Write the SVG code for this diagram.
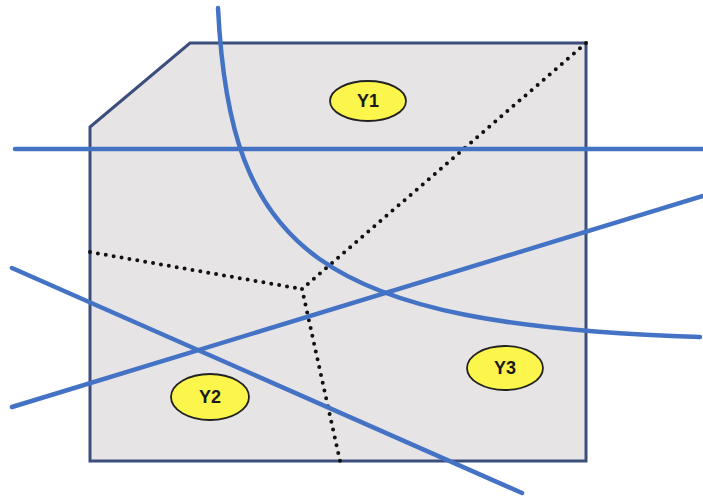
<svg xmlns="http://www.w3.org/2000/svg" width="703" height="499" viewBox="0 0 703 499">
<style>
.blue{fill:none;stroke:#4472c4;stroke-width:4.5;stroke-linecap:round}
.dot{fill:none;stroke:#111;stroke-width:4;stroke-dasharray:0 8;stroke-linecap:round}
.ell{fill:#fbf54c;stroke:#222;stroke-width:1.8}
.lbl{font-family:"Liberation Sans",Arial,sans-serif;font-weight:bold;font-size:18px;fill:#1a1a1a;text-anchor:middle}
</style>
<rect width="703" height="499" fill="#fff"/>
<g id="region">
<polygon points="90,127 190,43 586,43 586,461 90,461" fill="#e7e4e5" stroke="#3c4e7c" stroke-width="3"/>
</g>
<g id="connectors">
<path class="dot" d="M586,43 L302,289"/>
<path class="dot" d="M90,252 L302,289"/>
<path class="dot" d="M302,289 L340,461"/>
<path class="blue" d="M15,149 L703,149"/>
<path class="blue" d="M218,8 C230,250 315,325 700,337"/>
<path class="blue" d="M12,407 L703,196"/>
<path class="blue" d="M12,268 L522,493"/>
</g>
<g id="Y1">
<ellipse class="ell" cx="368" cy="101" rx="38" ry="20"/>
<text class="lbl" x="368" y="107">Y1</text>
</g>
<g id="Y2">
<ellipse class="ell" cx="210" cy="397" rx="39" ry="23"/>
<text class="lbl" x="210" y="403">Y2</text>
</g>
<g id="Y3">
<ellipse class="ell" cx="505" cy="368" rx="38" ry="22"/>
<text class="lbl" x="505" y="374">Y3</text>
</g>
</svg>
